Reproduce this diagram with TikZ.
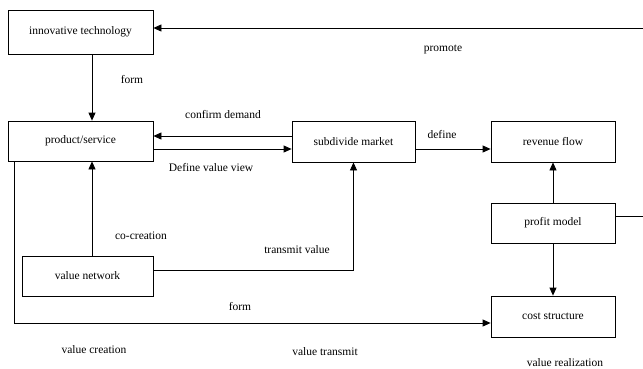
\documentclass[tikz,border=0pt]{standalone}
\usepackage{fontspec}
\setmainfont{Liberation Serif}
\usetikzlibrary{arrows.meta,positioning,calc}

\begin{document}
\begin{tikzpicture}[x=1pt, y=-1pt,
        box/.style={draw, line width=0.8pt, minimum height=40pt, align=center, inner sep=0pt, font=\fontsize{11.5}{13}\selectfont},
        lbl/.style={inner sep=0pt, font=\fontsize{11.5}{13}\selectfont},
        conn/.style={line width=0.8pt},
        arr/.style={conn, -{Triangle[length=8pt, width=7pt]}}]
        \useasboundingbox (0,0) rectangle (643,368);
        \clip (0,0) rectangle (643,368);
        % boxes
        \node[box, minimum width=145pt, minimum height=44pt] (innov) at (80.5,32) {innovative technology};
        \node[box, minimum width=145pt] (prod) at (80.5,141) {product/service};
        \node[box, minimum width=123pt, minimum height=41pt] (market) at (353.5,141.5) {subdivide market};
        \node[box, minimum width=124pt, minimum height=41pt] (revenue) at (553,141.5) {revenue flow};
        \node[box, minimum width=124pt] (profit) at (553,223) {profit model};
        \node[box, minimum width=124pt, minimum height=41pt] (cost) at (553,316.5) {cost structure};
        \node[box, minimum width=131pt] (network) at (87.5,276) {value network};
        % labels
        \node[lbl] (formA) at (132,80) {form};
        \node[lbl] (promote) at (443,49) {promote};
        \node[lbl] (confirm) at (223,115) {confirm demand};
        \node[lbl] (defview) at (211,168) {Define value view};
        \node[lbl] (define) at (442,135) {define};
        \node[lbl] (cocreate) at (141,236) {co-creation};
        \node[lbl] (transmit) at (297,250) {transmit value};
        \node[lbl] (formB) at (240,306) {form};
        \node[lbl] (vcreate) at (94,350) {value creation};
        \node[lbl] (vtransmit) at (325,352) {value transmit};
        \node[lbl] (vreal) at (565,363) {value realization};
        % feedback loop leaving the page on the right
        \coordinate (rbot) at (660,216);
        \coordinate (rtop) at (660,28);
        \draw[arr] ([yshift=7pt]profit.east) -- (rbot) -- (rtop) -- (innov.east |- rtop);
        % connectors
        \coordinate (upper) at ([yshift=5.5pt]market.west);
        \coordinate (lower) at ([yshift=-8pt]prod.east);
        \draw[arr] ([xshift=11.5pt]innov.south) -- ([xshift=11.5pt]prod.north);
        \draw[arr] (upper) -- (prod.east |- upper);
        \draw[arr] (lower) -- (market.west |- lower);
        \draw[arr] (market.east |- lower) -- (revenue.west |- lower);
        \draw[arr] (profit.north) -- (revenue.south);
        \draw[arr] (profit.south) -- (cost.north);
        \draw[arr] ([xshift=11.5pt]prod.south |- network.north) -- ([xshift=11.5pt]prod.south);
        \draw[arr] ([yshift=6pt]network.east) -| (market.south);
        \draw[arr] ([xshift=7pt]prod.south west) |- ([yshift=-6.5pt]cost.west);
\end{tikzpicture}
\end{document}
